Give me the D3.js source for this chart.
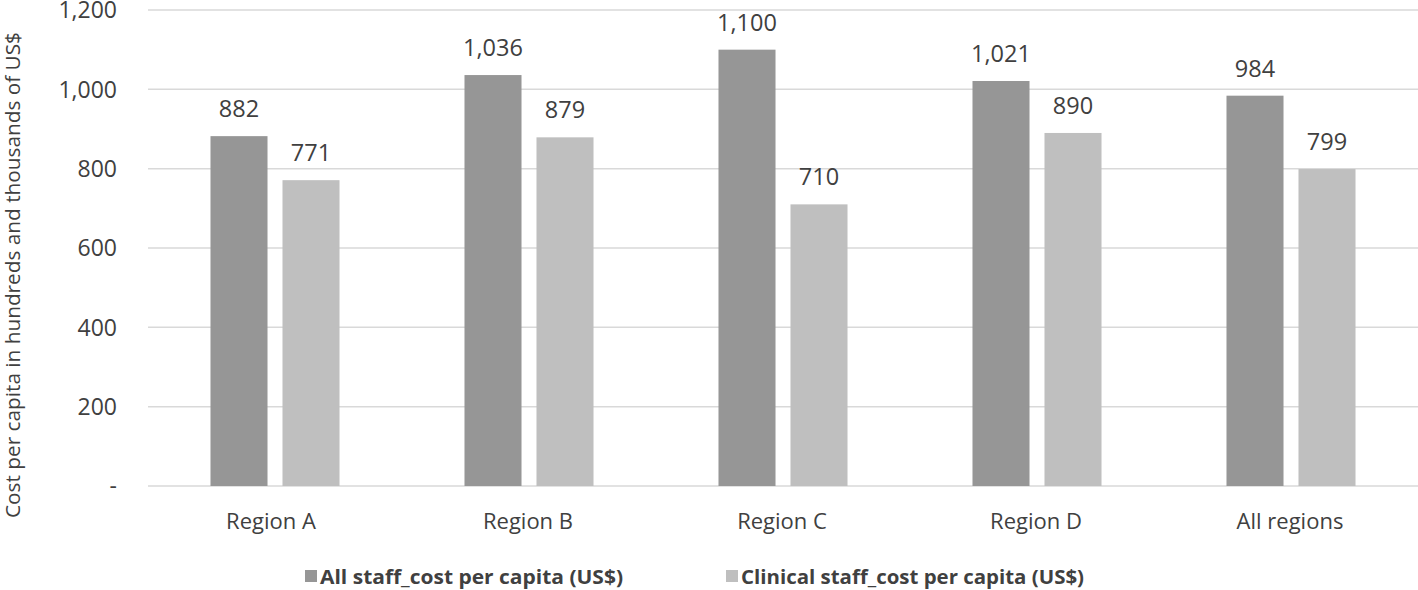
<!DOCTYPE html>
<html>
<head>
<meta charset="utf-8">
<script src="https://cdn.jsdelivr.net/npm/d3@7"></script>
<style>
  body { margin: 0; background: #fff; }
  text { font-family: "Open Sans", Lato, sans-serif; fill: #404040; }
</style>
</head>
<body>
<div class="chart"></div>
<script>
var width = 1418,
    height = 590;

var regions = ['Region A', 'Region B', 'Region C', 'Region D', 'All regions'];
var seriesNames = ['All staff_cost per capita (US$)', 'Clinical staff_cost per capita (US$)'];
var allStaff = [882, 1036, 1100, 1021, 984];
var clinicalStaff = [771, 879, 710, 890, 799];
var yTicks = [0, 200, 400, 600, 800, 1000, 1200];
var colors = ['#969696', '#bfbfbf'];

var plotLeft = 148, plotRight = 1418, plotTop = 10, plotBottom = 486;

var svg = d3.select(".chart").append("svg")
    .attr("width", width)
    .attr("height", height);

var x = d3.scaleBand()
    .domain(regions)
    .range([plotLeft, plotRight]);

// two bars per group, 57px wide with a 15px gap
var x1 = d3.scaleBand()
    .domain([0, 1])
    .range([0, x.bandwidth()])
    .paddingInner(0.208)
    .paddingOuter(0.868);

var y = d3.scaleLinear()
    .domain([0, 1200])
    .range([plotBottom, plotTop]);

// gridlines
svg.append("g")
    .selectAll("line")
    .data(yTicks)
    .enter()
    .append("line")
    .attr("x1", plotLeft)
    .attr("x2", plotRight)
    .attr("y1", function (d) { return y(d); })
    .attr("y2", function (d) { return y(d); })
    .attr("stroke", "#d9d9d9")
    .attr("stroke-width", 1.5);

// y tick labels
svg.append("g")
    .selectAll("text")
    .data(yTicks)
    .enter()
    .append("text")
    .attr("x", 117)
    .attr("y", function (d) { return y(d); })
    .attr("dy", "0.36em")
    .style("text-anchor", "end")
    .style("font-size", "23px")
    .text(function (d) { return d === 0 ? "-" : d3.format(",")(d); });

// y axis title
svg.append("text")
    .attr("transform", "translate(20," + 275 + ") rotate(-90)")
    .style("text-anchor", "middle")
    .style("font-size", "19.5px")
    .attr("textLength", 486)
    .attr("lengthAdjust", "spacingAndGlyphs")
    .text("Cost per capita in hundreds and thousands of US$");

// bars
var series = [allStaff, clinicalStaff];
series.forEach(function (vals, s) {
    var g = svg.append("g");
    g.selectAll("rect")
        .data(vals)
        .enter()
        .append("rect")
        .attr("x", function (d, i) { return x(regions[i]) + x1(s); })
        .attr("y", function (d) { return y(d); })
        .attr("width", x1.bandwidth())
        .attr("height", function (d) { return y(0) - y(d); })
        .attr("fill", colors[s]);
    g.selectAll("text")
        .data(vals)
        .enter()
        .append("text")
        .attr("x", function (d, i) { return x(regions[i]) + x1(s) + x1.bandwidth() / 2; })
        .attr("y", function (d) { return y(d) - 19; })
        .style("text-anchor", "middle")
        .style("font-size", "23.5px")
        .text(function (d) { return d3.format(",")(d); });
});

// category labels
svg.append("g")
    .selectAll("text")
    .data(regions)
    .enter()
    .append("text")
    .attr("x", function (d, i) { return x(d) + x.bandwidth() / 2 - (i === 0 ? 4 : 1); })
    .attr("y", 529)
    .style("text-anchor", "middle")
    .style("font-size", "22px")
    .text(function (d) { return d; });

// legend
var legendX = [305, 726];
seriesNames.forEach(function (name, s) {
    svg.append("rect")
        .attr("x", legendX[s])
        .attr("y", 570)
        .attr("width", 12)
        .attr("height", 12)
        .attr("fill", colors[s]);
    svg.append("text")
        .attr("x", legendX[s] + 15)
        .attr("y", 584)
        .style("font-size", "20px")
        .style("font-weight", "bold")
        .attr("textLength", s === 0 ? 303 : 343)
        .attr("lengthAdjust", "spacingAndGlyphs")
        .text(name);
});
</script>
</body>
</html>
